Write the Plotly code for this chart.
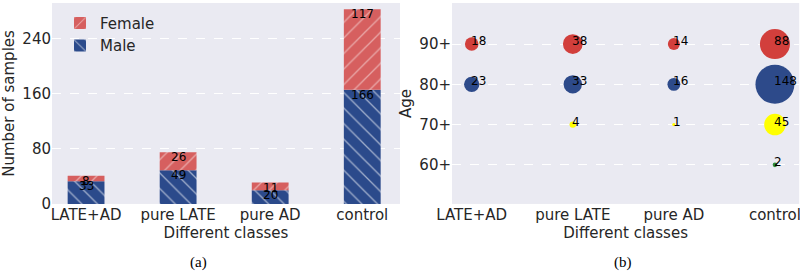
import plotly.graph_objects as go

# ---- data ----
classes = ["LATE+AD", "pure LATE", "pure AD", "control"]
male = [33, 49, 20, 166]
female = [8, 26, 11, 117]

age_levels = [90, 80, 70, 60]
age_labels = ["90+", "80+", "70+", "60+"]
age_90 = [18, 38, 14, 88]
age_80 = [23, 33, 16, 148]
age_70 = [None, 4, 1, 45]
age_60 = [None, None, None, 2]

BG = "#EAEAF2"
RED_BAR = "#d65f5f"
BLUE_BAR = "#2b4a8b"
RED = "#d23f3c"
BLUE = "#2d4a8a"
YELLOW = "#ffff00"
GREEN = "#2e8b3a"
FONT = "DejaVu Sans"

fig = go.Figure()

xi = list(range(len(classes)))

# stacked bars (left)
fig.add_trace(go.Bar(
    x=xi, y=male, name="Male", width=0.4, xaxis="x", yaxis="y",
    marker=dict(color=BLUE_BAR, line=dict(width=0),
                pattern=dict(shape="\\", fgcolor="white", fgopacity=0.55,
                             bgcolor=BLUE_BAR, size=11, solidity=0.12)),
    legendrank=2,
))
fig.add_trace(go.Bar(
    x=xi, y=female, base=male, name="Female", width=0.4, xaxis="x", yaxis="y",
    marker=dict(color=RED_BAR, line=dict(width=0),
                pattern=dict(shape="/", fgcolor="white", fgopacity=0.45,
                             bgcolor=RED_BAR, size=11, solidity=0.12)),
    legendrank=1,
))

# bar labels (annotations at segment tops, via the data axes)
tops_f = [m + f for m, f in zip(male, female)]
annotations = []
for xv, yv, val in list(zip(xi, male, male)) + list(zip(xi, tops_f, female)):
    annotations.append(dict(
        x=xv, y=yv, xref="x", yref="y", text=str(val), showarrow=False,
        xanchor="center", yanchor="middle", yshift=-5,
        font=dict(size=12, color="black", family=FONT)))

# bubbles (right)
series = [(age_90, RED), (age_80, BLUE), (age_70, YELLOW), (age_60, GREEN)]
for lvl, (vals, col) in zip(age_levels, series):
    xs = [i for i, v in enumerate(vals) if v is not None]
    vs = [v for v in vals if v is not None]
    ys = [lvl] * len(xs)
    fig.add_trace(go.Scatter(
        x=xs, y=ys, mode="markers",
        marker=dict(size=vs, sizemode="area", sizeref=0.195, color=col,
                    line=dict(width=0), opacity=1),
        showlegend=False, xaxis="x2", yaxis="y2", hoverinfo="skip", cliponaxis=False))
    for xv, yv, val in zip(xs, ys, vs):
        annotations.append(dict(
            x=xv, y=yv, xref="x2", yref="y2", text=str(val), showarrow=False,
            xanchor="left", yanchor="middle", yshift=3, xshift=-3,
            font=dict(size=12, color="black", family=FONT)))

axis_font = dict(size=15, color="#262626", family=FONT)
grid = dict(showgrid=True, gridcolor="white", griddash="dash", gridwidth=1.3)

annotations += [
    dict(text="(a)", x=0.235, y=0.037, xref="paper", yref="paper", yanchor="middle",
         showarrow=False, font=dict(family="Liberation Serif", size=15, color="black")),
    dict(text="(b)", x=0.792, y=0.037, xref="paper", yref="paper", yanchor="middle",
         showarrow=False, font=dict(family="Liberation Serif", size=15, color="black")),
]

fig.update_layout(
    width=800, height=273,
    margin=dict(l=0, r=0, t=0, b=0, autoexpand=False),
    paper_bgcolor="white",
    plot_bgcolor=BG,
    barmode="overlay",
    font=dict(family=FONT, color="#262626"),
    xaxis=dict(domain=[0.065, 0.5], anchor="y", range=[-0.37, 3.41], automargin=False,
               tickmode="array", tickvals=xi, ticktext=classes, ticklabeloverflow="allow",
               tickfont=axis_font, showgrid=False, zeroline=False, ticks="",
               title=dict(text="Different classes", font=axis_font, standoff=2)),
    yaxis=dict(domain=[0.253, 0.989], anchor="x", range=[0, 292], automargin=False,
               tickvals=[0, 80, 160, 240], tickfont=axis_font, zeroline=False,
               ticks="", title=dict(text="Number of samples", font=axis_font, standoff=4),
               **grid),
    xaxis2=dict(domain=[0.565, 0.999], anchor="y2", range=[-0.195, 3.24], automargin=False,
                tickmode="array", tickvals=xi, ticktext=classes, ticklabeloverflow="allow",
                tickfont=axis_font, showgrid=False, zeroline=False, ticks="",
                title=dict(text="Different classes", font=axis_font, standoff=2)),
    yaxis2=dict(domain=[0.253, 0.989], anchor="x2", range=[50.3, 100.2], automargin=False,
                tickmode="array", tickvals=age_levels, ticktext=age_labels,
                tickfont=axis_font, zeroline=False, ticks="",
                title=dict(text="Age", font=axis_font, standoff=4), **grid),
    legend=dict(x=0.075, y=0.975, xanchor="left", yanchor="top",
                bgcolor="rgba(0,0,0,0)", font=dict(size=15, family=FONT, color="#262626"),
                traceorder="normal", tracegroupgap=4, itemwidth=30),
    annotations=annotations,
)

fig.write_html("out.html", config={"displayModeBar": False},
               post_script="document.body.style.margin='0';document.body.style.overflow='hidden';")
